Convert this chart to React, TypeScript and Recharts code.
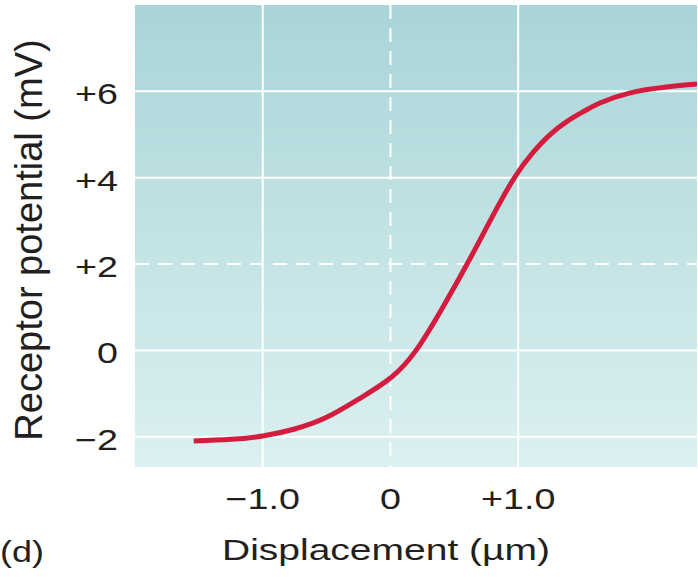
import { LineChart, Line, XAxis, YAxis, CartesianGrid } from "recharts"

// curve (µm vs mV)
const displacement = [-1.54, -1.25, -1.0, -0.75, -0.5, -0.25, 0, 0.2, 0.4, 0.6, 0.78, 0.97, 1.12, 1.25, 1.38, 1.51, 1.64, 1.87, 2.16, 2.4]
const potential = [-2.1, -2.06, -1.98, -1.82, -1.55, -1.13, -0.64, 0.0, 0.95, 2.0, 3.0, 4.0, 4.6, 5.0, 5.3, 5.53, 5.73, 5.96, 6.1, 6.17]

const xTicks = [-1, 0, 1]
const xTickLabels = ["\u22121.0", "0", "+1.0"]
const yTicks = [-2, 0, 2, 4, 6]
const yTickLabels = ["\u22122", "0", "+2", "+4", "+6"]

const data = displacement.map((x, i) => ({ x, y: potential[i] }))

const FONT = '"Liberation Sans", Arial, Helvetica, sans-serif'
const INK = "#231f20"

const XTick = ({ x, y, payload }: any) => {
    const label = xTickLabels[xTicks.indexOf(payload.value)]
    return (
        <g transform={`translate(${x},${y + 42}) scale(1.3,1)`}>
            <text textAnchor="middle" fontSize={29} fontFamily={FONT} fill={INK}>
                {label}
            </text>
        </g>
    )
}

const YTick = ({ x, y, payload }: any) => {
    const label = yTickLabels[yTicks.indexOf(payload.value)]
    return (
        <g transform={`translate(${x - 17},${y + 13}) scale(1.3,1)`}>
            <text textAnchor="end" fontSize={29} fontFamily={FONT} fill={INK}>
                {label}
            </text>
        </g>
    )
}

export default function App() {
    return (
        <div style={{ position: "absolute", left: 0, top: 0, background: "#fff" }}>
            <LineChart width={698} height={577} data={data} margin={{ top: 5, right: 1, bottom: 0, left: 0 }}>
                <defs>
                    <linearGradient id="plotBg" x1="0" y1="0" x2="0" y2="1">
                        <stop offset="0%" stopColor="#a9d5d8" />
                        <stop offset="100%" stopColor="#dcf0f1" />
                    </linearGradient>
                </defs>
                <CartesianGrid
                    fill="url(#plotBg)"
                    fillOpacity={1}
                    stroke="#ffffff"
                    strokeWidth={2}
                    horizontalValues={[6, 4, 0, -2]}
                    verticalValues={[-1, 1]}
                />
                <CartesianGrid
                    stroke="#ffffff"
                    strokeWidth={2}
                    strokeDasharray="14 9"
                    horizontalValues={[2]}
                    verticalValues={[0]}
                />
                <XAxis
                    dataKey="x"
                    type="number"
                    domain={[-2, 2.4]}
                    ticks={xTicks}
                    allowDataOverflow
                    axisLine={false}
                    tickLine={false}
                    tickSize={0}
                    tickMargin={0}
                    height={110}
                    tick={<XTick />}
                    interval={0}
                />
                <YAxis
                    type="number"
                    domain={[-2.7, 8]}
                    ticks={yTicks}
                    allowDataOverflow
                    axisLine={false}
                    tickLine={false}
                    tickSize={0}
                    tickMargin={0}
                    width={135}
                    tick={<YTick />}
                    interval={0}
                />
                <Line
                    type="natural"
                    dataKey="y"
                    stroke="#d41c3e"
                    strokeWidth={5}
                    dot={false}
                    activeDot={false}
                    isAnimationActive={false}
                />
            </LineChart>
            {/* axis titles and panel letter */}
            <svg width={698} height={577} style={{ position: "absolute", left: 0, top: 0, pointerEvents: "none" }}>
                <text
                    transform="translate(42,240) rotate(-90)"
                    textAnchor="middle"
                    fontSize={38}
                    fontFamily={FONT}
                    fill={INK}
                >
                    Receptor potential (mV)
                </text>
                <g transform="translate(386,560) scale(1.3,1)">
                    <text textAnchor="middle" fontSize={30} fontFamily={FONT} fill={INK}>
                        Displacement (µm)
                    </text>
                </g>
                <g transform="translate(0,562) scale(1.2,1)">
                    <text fontSize={30} fontFamily={FONT} fill={INK}>
                        (d)
                    </text>
                </g>
            </svg>
        </div>
    )
}
